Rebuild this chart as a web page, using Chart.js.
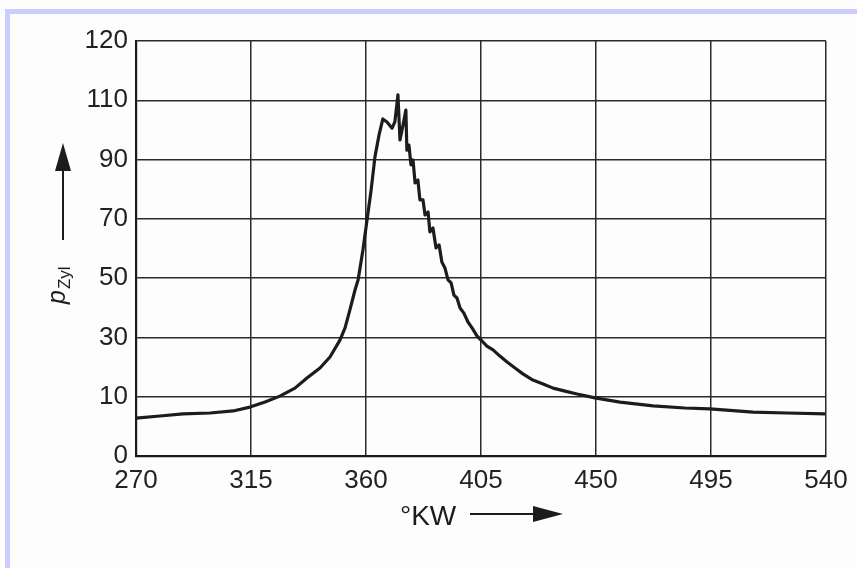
<!DOCTYPE html>
<html>
<head>
<meta charset="utf-8">
<script src="https://cdn.jsdelivr.net/npm/chart.js@4.4.1/dist/chart.umd.min.js"></script>
<style>
  body { margin: 0; background: #fdfdfd; }
  #wrap { position: relative; width: 857px; height: 568px; overflow: hidden; }
  .band { position: absolute; background: #ccccff; }
  canvas { position: absolute; left: 0; top: 0; }
</style>
</head>
<body>
<div id="wrap">
  <div class="band" style="left:5px; top:9px; width:852px; height:5px;"></div>
  <div class="band" style="left:5px; top:9px; width:5px; height:559px;"></div>
  <canvas id="chart" width="857" height="568"></canvas>
</div>
<script>
// crank angle in degrees (°KW)
const crankAngle = [
  270, 279.4, 288.4, 299, 308, 314.6, 320.5, 326.3, 332.2, 336.9,
  342, 345.9, 349.8, 351.8, 353.7, 355.7, 356.9, 358.8, 360.4, 362,
  363.5, 365.1, 366.6, 368.2, 370.2, 371.3, 372.5, 373.3, 374.5, 375.6,
  376.0, 376.8, 377.6, 378.4, 379.2, 380.3, 381.1, 382.3, 383.1, 384.3,
  385.0, 386.2, 387.4, 388.6, 389.7, 390.9, 392.1, 393.3, 394.4, 395.6,
  396.8, 398.3, 399.9, 401.5, 403.4, 405.4, 407.3, 409.7, 412.4, 415.2,
  418.3, 421.4, 425.3, 429.3, 433.2, 437.9, 442.6, 449.6, 459.4, 472.3,
  484.8, 494.6, 511.4, 524.7, 539.6
];
// cylinder pressure, in grid units (each gridline = 20, labels below)
const pressure = [
  12.8, 13.5, 14.2, 14.5, 15.2, 16.5, 18.2, 20.2, 22.9, 26.3,
  29.7, 33.4, 39.1, 43.2, 49.3, 56.0, 59.4, 69.5, 79.6, 89.7,
  100.9, 108.3, 113.7, 112.7, 110.6, 112.7, 121.8, 106.6, 111.7, 116.7,
  103.2, 104.9, 98.2, 99.9, 92.1, 93.1, 86.4, 86.4, 81.3, 82.3,
  75.6, 76.9, 70.2, 71.2, 65.4, 63.4, 59.4, 58.4, 54.3, 53.3,
  49.9, 48.2, 45.2, 43.2, 40.5, 38.8, 37.1, 35.8, 33.7, 31.7,
  29.7, 27.7, 25.6, 24.3, 22.9, 21.9, 20.9, 19.6, 18.2, 16.9,
  16.2, 15.9, 14.8, 14.5, 14.2
];
// y gridlines are evenly spaced but labelled like this
const yTickLabels = ['0', '10', '30', '50', '70', '90', '110', '120'];
const xTicks = [270, 315, 360, 405, 450, 495, 540];

const ink = '#1c1c1c';
const fontFamily = '"Liberation Sans", Arial, Helvetica, sans-serif';

let points = [];
for (let i = 0; i < crankAngle.length; i++) {
    points.push({x: crankAngle[i], y: pressure[i]});
}

// axis titles with arrows
const titlesPlugin = {
    id: 'titles',
    afterDraw(chart) {
        let ctx = chart.ctx;
        ctx.save();
        ctx.fillStyle = ink;
        ctx.strokeStyle = ink;

        // y title: p_Zyl, rotated
        ctx.save();
        ctx.translate(65, 304);
        ctx.rotate(-Math.PI / 2);
        ctx.textBaseline = 'alphabetic';
        ctx.textAlign = 'left';
        ctx.font = 'italic 25px ' + fontFamily;
        ctx.fillText('p', 0, 0);
        let pw = ctx.measureText('p').width;
        ctx.font = '17px ' + fontFamily;
        ctx.fillText('Zyl', pw + 1, 5);
        ctx.restore();

        // y arrow
        ctx.lineWidth = 2;
        ctx.beginPath();
        ctx.moveTo(63, 240);
        ctx.lineTo(63, 165);
        ctx.stroke();
        ctx.beginPath();
        ctx.moveTo(63, 143);
        ctx.lineTo(55, 171);
        ctx.lineTo(71, 171);
        ctx.closePath();
        ctx.fill();

        // x title
        ctx.font = '28px ' + fontFamily;
        ctx.textBaseline = 'alphabetic';
        ctx.textAlign = 'left';
        ctx.fillText('°KW', 400, 525);

        // x arrow
        ctx.beginPath();
        ctx.moveTo(470, 514);
        ctx.lineTo(538, 514);
        ctx.stroke();
        ctx.beginPath();
        ctx.moveTo(563, 514);
        ctx.lineTo(533, 506);
        ctx.lineTo(533, 522);
        ctx.closePath();
        ctx.fill();

        ctx.restore();
    }
};

new Chart(document.getElementById('chart'), {
    type: 'line',
    data: {
        datasets: [{
            data: points,
            borderColor: ink,
            borderWidth: 3.2,
            borderJoinStyle: 'round',
            pointRadius: 0,
            tension: 0,
            fill: false,
        }]
    },
    options: {
        responsive: false,
        animation: false,
        layout: {padding: {top: 41, right: 31, left: 0, bottom: 0}},
        plugins: {legend: {display: false}, tooltip: {enabled: false}},
        scales: {
            x: {
                type: 'linear',
                min: 270,
                max: 540,
                afterBuildTicks: function(scale) {
                    scale.ticks = xTicks.map(v => ({value: v}));
                },
                afterFit: function(scale) { scale.height = 112; },
                grid: {color: '#2a2a2a', lineWidth: 1.5, drawTicks: false},
                border: {color: '#1a1a1a', width: 2.2},
                ticks: {
                    padding: 9,
                    color: '#222',
                    font: {family: fontFamily, size: 26},
                    maxRotation: 0,
                },
            },
            y: {
                type: 'linear',
                min: 0,
                max: 140,
                ticks: {
                    stepSize: 20,
                    padding: 8,
                    color: '#222',
                    font: {family: fontFamily, size: 26},
                    callback: function(value) { return yTickLabels[Math.round(value / 20)]; },
                },
                afterFit: function(scale) { scale.width = 136; },
                grid: {color: '#2a2a2a', lineWidth: 1.5, drawTicks: false},
                border: {color: '#1a1a1a', width: 2.2},
            }
        }
    },
    plugins: [titlesPlugin]
});
</script>
</body>
</html>
